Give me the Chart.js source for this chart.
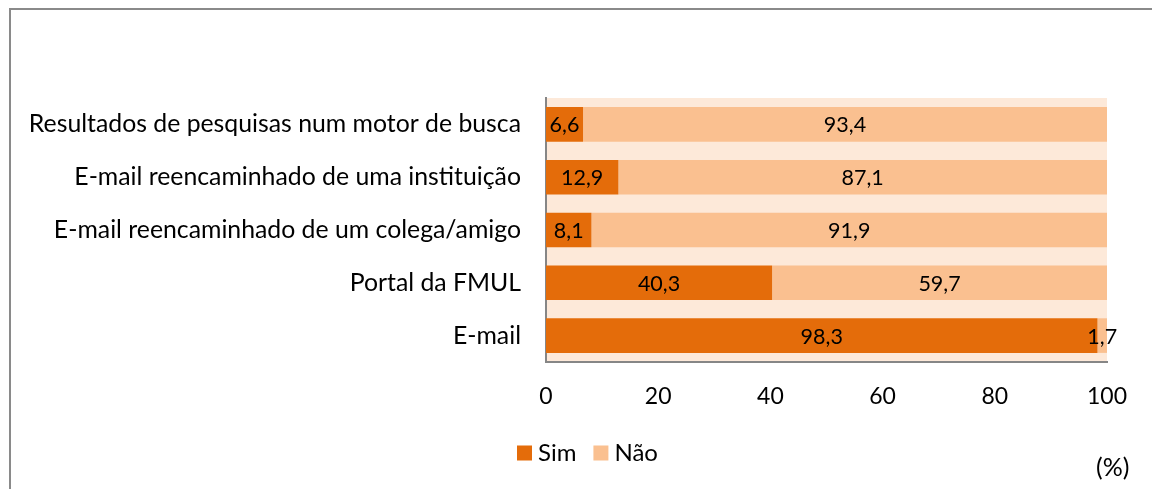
<!DOCTYPE html>
<html>
<head>
<meta charset="utf-8">
<script src="https://cdn.jsdelivr.net/npm/chart.js@4.4.1/dist/chart.umd.min.js"></script>
<style>
  html, body { margin: 0; padding: 0; background: #fff; overflow: hidden; }
  #frame { position: absolute; left: 9px; top: 8px; width: 1300px; height: 700px;
           border-top: 2px solid #8a8a8a; border-left: 2px solid #8a8a8a; }
  #wrap { position: absolute; left: 0; top: 0; width: 1152px; height: 489px; }
</style>
</head>
<body>
<div id="frame"></div>
<div id="wrap"><canvas id="chart" width="1152" height="489"></canvas></div>
<script>
// categories, top to bottom
const categories = [
  "Resultados de pesquisas num motor de busca",
  "E-mail reencaminhado de uma instituição",
  "E-mail reencaminhado de um colega/amigo",
  "Portal da FMUL",
  "E-mail"
];
const simValues = [6.6, 12.9, 8.1, 40.3, 98.3];
const naoValues = [93.4, 87.1, 91.9, 59.7, 1.7];
const seriesNames = ["Sim", "Não"];
const xTicks = [0, 20, 40, 60, 80, 100];

const FONT = "Lato";
const colSim = "#E46C0A";
const colNao = "#FAC090";
const colBg = "#FDE9D9";

// plot area background
const plotBg = {
  id: "plotBg",
  beforeDraw(chart) {
    const a = chart.chartArea, ctx = chart.ctx;
    ctx.save();
    ctx.fillStyle = colBg;
    ctx.fillRect(a.left, a.top, a.right - a.left, a.bottom - a.top);
    ctx.restore();
  }
};

// values in the middle of each segment
const segLabels = {
  id: "segLabels",
  afterDatasetsDraw(chart) {
    const ctx = chart.ctx;
    ctx.save();
    ctx.font = "21.5px " + FONT;
    ctx.fillStyle = "#000";
    ctx.textAlign = "center";
    ctx.textBaseline = "middle";
    chart.data.datasets.forEach((ds, i) => {
      chart.getDatasetMeta(i).data.forEach((bar, j) => {
        const cx = (bar.x + bar.base) / 2;
        ctx.fillText(ds.data[j].toFixed(1).replace(".", ","), cx, bar.y + 1);
      });
    });
    ctx.restore();
  }
};

// legend and unit note
const extras = {
  id: "extras",
  afterDraw(chart) {
    const ctx = chart.ctx;
    ctx.save();
    ctx.font = "24px " + FONT;
    ctx.fillStyle = "#000";
    ctx.textBaseline = "middle";
    let x = 517;
    const y = 453;
    chart.data.datasets.forEach(ds => {
      ctx.fillStyle = ds.backgroundColor;
      ctx.fillRect(x, y - 7.5, 15, 15);
      ctx.fillStyle = "#000";
      ctx.fillText(ds.label, x + 21, y);
      x += 21 + ctx.measureText(ds.label).width + 17;
    });
    ctx.font = "25px " + FONT;
    ctx.fillText("(%)", 1096, 468);
    ctx.restore();
  }
};

new Chart(document.getElementById("chart"), {
  type: "bar",
  data: {
    labels: categories,
    datasets: [
      { label: seriesNames[0], data: simValues, backgroundColor: colSim },
      { label: seriesNames[1], data: naoValues, backgroundColor: colNao }
    ]
  },
  options: {
    indexAxis: "y",
    responsive: false,
    animation: false,
    layout: { padding: { top: 98, right: 45, left: 0, bottom: 0 } },
    datasets: { bar: { categoryPercentage: 1, barPercentage: 0.655 } },
    plugins: { legend: { display: false }, tooltip: { enabled: false } },
    scales: {
      x: {
        stacked: true,
        min: 0, max: 100,
        afterBuildTicks(scale) { scale.ticks = xTicks.map(v => ({ value: v })); },
        afterFit(scale) { scale.height = 127; },
        grid: { display: false, drawTicks: false },
        border: { display: true, color: "#868686", width: 2 },
        ticks: { color: "#000", font: { family: FONT, size: 23 }, padding: 21, maxRotation: 0 }
      },
      y: {
        stacked: true,
        afterFit(scale) { scale.width = 546; },
        grid: { display: false, drawTicks: false },
        border: { display: true, color: "#868686", width: 2 },
        ticks: { color: "#000", font: { family: FONT, size: 24.8 }, padding: 25 }
      }
    }
  },
  plugins: [plotBg, segLabels, extras]
});
</script>
</body>
</html>
